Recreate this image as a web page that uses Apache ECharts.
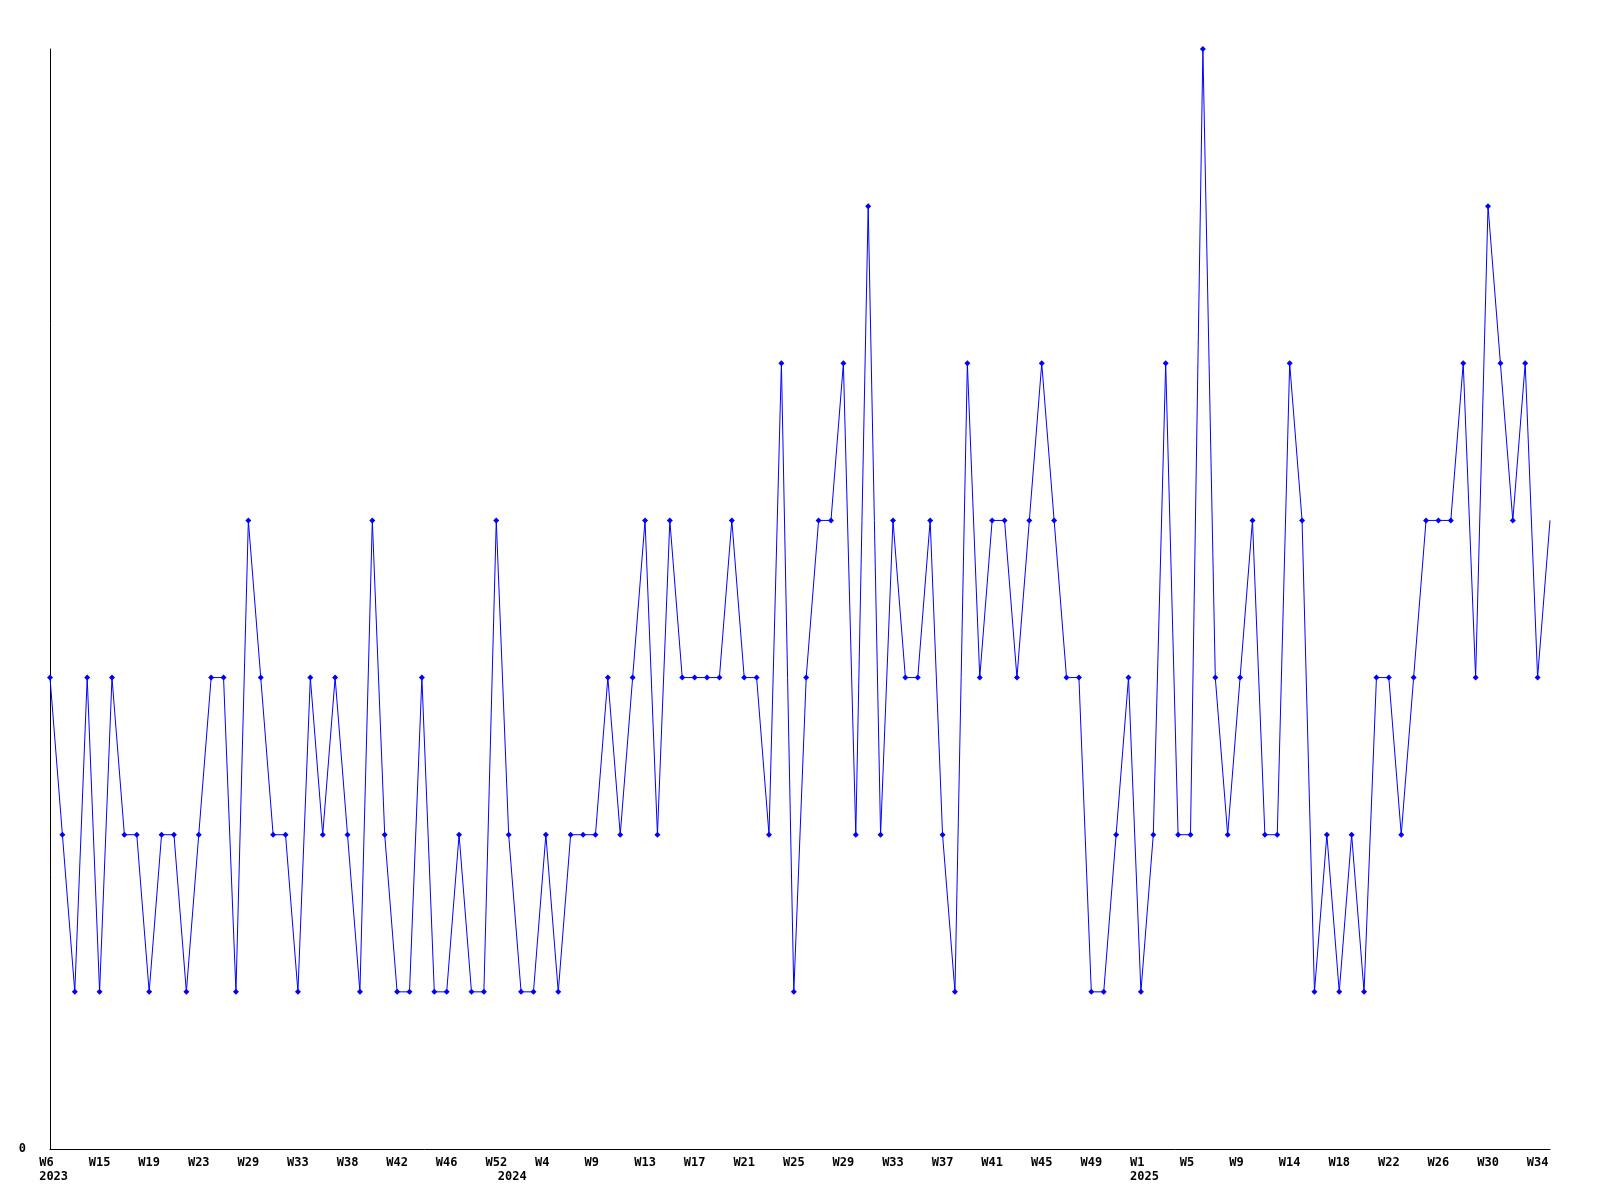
<!DOCTYPE html>
<html><head><meta charset="utf-8">
<script src="https://cdn.jsdelivr.net/npm/echarts@6/dist/echarts.min.js"></script>
<style>html,body{margin:0;padding:0;background:#fff}#c{width:1600px;height:1200px}</style>
</head><body><div id="c"></div>
<script>
const categories = [
 'W6','W8','W10','W12','W15','W16','W17','W18','W19','W20','W21','W22','W23','W25','W26','W28','W29','W30','W31','W32','W33','W34','W35','W37','W38','W39','W40','W41','W42','W43','W44','W45','W46','W48','W49','W51','W52',
 'W1','W2','W3','W4','W5','W7','W8','W9','W10','W11','W12','W13','W14','W15','W16','W17','W18','W19','W20','W21','W22','W23','W24','W25','W26','W27','W28','W29','W30','W31','W32','W33','W34','W35','W36','W37','W38','W39','W40','W41','W42','W43','W44','W45','W46','W47','W48','W49','W50','W51','W52',
 'W1','W2','W3','W4','W5','W6','W7','W8','W9','W10','W12','W13','W14','W15','W16','W17','W18','W19','W20','W21','W22','W23','W24','W25','W26','W27','W28','W29','W30','W31','W32','W33','W34','W35'
];
const categoryYears = [
 2023,2023,2023,2023,2023,2023,2023,2023,2023,2023,2023,2023,2023,2023,2023,2023,2023,2023,2023,2023,2023,2023,2023,2023,2023,2023,2023,2023,2023,2023,2023,2023,2023,2023,2023,2023,2023,
 2024,2024,2024,2024,2024,2024,2024,2024,2024,2024,2024,2024,2024,2024,2024,2024,2024,2024,2024,2024,2024,2024,2024,2024,2024,2024,2024,2024,2024,2024,2024,2024,2024,2024,2024,2024,2024,2024,2024,2024,2024,2024,2024,2024,2024,2024,2024,2024,2024,2024,2024,
 2025,2025,2025,2025,2025,2025,2025,2025,2025,2025,2025,2025,2025,2025,2025,2025,2025,2025,2025,2025,2025,2025,2025,2025,2025,2025,2025,2025,2025,2025,2025,2025,2025,2025
];
const values = [
 3,2,1,3,1,3,2,2,1,2,
 2,1,2,3,3,1,4,3,2,2,
 1,3,2,3,2,1,4,2,1,1,
 3,1,1,2,1,1,4,2,1,1,
 2,1,2,2,2,3,2,3,4,2,
 4,3,3,3,3,4,3,3,2,5,
 1,3,4,4,5,2,6,2,4,3,
 3,4,2,1,5,3,4,4,3,4,
 5,4,3,3,1,1,2,3,1,2,
 5,2,2,7,3,2,3,4,2,2,
 5,4,1,2,1,2,1,3,3,2,
 3,4,4,4,5,3,6,5,4,5,
 3,4
];
const yLabels = ['0'];

const font = {fontFamily:'DejaVu Sans Mono', fontWeight:'bold', fontSize:12, color:'#000'};
function padRight(s, n){ while (s.length < n) s += ' '; return s; }
const chart = echarts.init(document.getElementById('c'), null, {renderer:'canvas'});
chart.setOption({
  animation:false,
  backgroundColor:'#fff',
  grid:{left:50, top:49, right:50, bottom:51, containLabel:false},
  xAxis:[{
    type:'category', data:categories, boundaryGap:false, position:'bottom',
    axisLine:{show:true, lineStyle:{color:'#000', width:1}},
    axisTick:{show:false},
    splitLine:{show:false},
    axisLabel:Object.assign({
      interval:3, margin:8, hideOverlap:false,
      formatter:function(v){ return padRight(v, 3); }
    }, font)
  },{
    type:'category', data:categories, boundaryGap:false, position:'bottom',
    axisLine:{show:false}, axisTick:{show:false}, splitLine:{show:false},
    axisLabel:Object.assign({
      margin:22, hideOverlap:false,
      interval:function(i){ return i===0 || categoryYears[i]!==categoryYears[i-1]; },
      formatter:function(v,i){ return ' ' + categoryYears[i]; }
    }, font)
  }],
  yAxis:{
    type:'value', min:0, max:7, interval:7,
    axisLine:{show:true, lineStyle:{color:'#000', width:1}},
    axisTick:{show:false}, splitLine:{show:false},
    axisLabel:Object.assign({margin:24, formatter:function(v){ return v===0 ? yLabels[0] : ''; }}, font)
  },
  series:[{
    type:'line', xAxisIndex:0,
    data:values.map(function(v,i){ return i===values.length-1 ? {value:v, symbol:'none'} : v; }),
    symbol:'diamond', symbolSize:6, showAllSymbol:true,
    lineStyle:{color:'#0000ff', width:1},
    itemStyle:{color:'#0000ff'},
    emphasis:{disabled:true}
  }]
});
</script></body></html>
